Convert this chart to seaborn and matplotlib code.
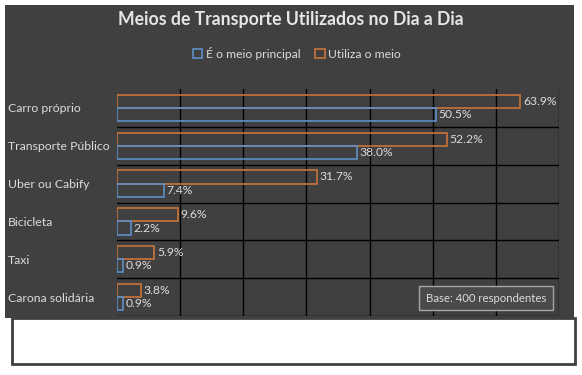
import seaborn as sns
import pandas as pd
import matplotlib.pyplot as plt
from matplotlib.patches import Rectangle, Patch

categorias = ["Carro próprio", "Transporte Público", "Uber ou Cabify",
              "Bicicleta", "Taxi", "Carona solidária"]
meio_principal = [50.5, 38.0, 7.4, 2.2, 0.9, 0.9]
utiliza_meio = [63.9, 52.2, 31.7, 9.6, 5.9, 3.8]
serie_principal = "É o meio principal"
serie_utiliza = "Utiliza o meio"

BG = "#404040"
TXT = "#dcdcdc"
BLUE = "#5b8fc8"
ORANGE = "#c8743a"

plt.rcParams["font.family"] = ["Lato", "DejaVu Sans"]

df = pd.DataFrame({
    "categoria": categorias * 2,
    "valor": utiliza_meio + meio_principal,
    "serie": [serie_utiliza] * len(categorias) + [serie_principal] * len(categorias),
})

W, H = 582, 375
fig = plt.figure(figsize=(W / 100, H / 100), dpi=100)
fig.patch.set_facecolor("white")

# dark panel + white box underneath
fig.patches.append(Rectangle((5 / W, 1 - 318 / H), 569 / W, 313 / H,
                             transform=fig.transFigure, fc=BG, ec="none", zorder=-2))
fig.patches.append(Rectangle((12 / W, 1 - 364 / H), 563 / W, 46 / H,
                             transform=fig.transFigure, fc="white", ec=BG, lw=2, zorder=-1))

ax = fig.add_axes([117 / W, 1 - 316 / H, (559 - 117) / W, (316 - 89) / H])
ax.set_facecolor("none")

sns.barplot(data=df, y="categoria", x="valor", hue="serie",
            hue_order=[serie_utiliza, serie_principal],
            palette={serie_utiliza: ORANGE, serie_principal: BLUE},
            fill=False, width=0.7, linewidth=1.2, legend=False, ax=ax)

for cont in ax.containers:
    ax.bar_label(cont, fmt="%.1f%%", padding=2, color=TXT, fontsize=8.7)

ax.set_xlim(0, 70)
ax.set_xticks(range(10, 71, 10))
ax.set_yticks([i + 0.5 for i in range(len(categorias))], minor=True)
ax.grid(axis="x", color="black", lw=1)
ax.grid(axis="y", which="minor", color="black", lw=1)
ax.set_axisbelow(True)
ax.tick_params(axis="x", labelbottom=False, length=0)
ax.tick_params(axis="y", which="both", length=0, pad=78.5)
for lbl in ax.get_yticklabels():
    lbl.set_horizontalalignment("left")
    lbl.set_color(TXT)
    lbl.set_fontsize(8.8)
for s in ax.spines.values():
    s.set_visible(False)
ax.set(xlabel=None, ylabel=None)

fig.text(291 / W, 1 - 19 / H, "Meios de Transporte Utilizados no Dia a Dia",
         ha="center", va="center", fontsize=12.7, weight="bold", color="#e6e6e6")

handles = [Patch(facecolor="none", edgecolor=BLUE, lw=1.2),
           Patch(facecolor="none", edgecolor=ORANGE, lw=1.2)]
fig.legend(handles, [serie_principal, serie_utiliza], loc="center",
           bbox_to_anchor=(297 / W, 1 - 53 / H), ncol=2, frameon=False,
           handlelength=0.8, handleheight=0.8, handletextpad=0.3,
           columnspacing=1.2, labelcolor=TXT, fontsize=8.7)

fig.text(486 / W, 1 - 298 / H, "Base: 400 respondentes", ha="center", va="center",
         fontsize=8.2, color=TXT,
         bbox=dict(boxstyle="square,pad=0.6", fc="#4a4a4a", ec="#a6a6a6", lw=1))

fig.savefig("out.png", dpi=100, facecolor=fig.get_facecolor())
